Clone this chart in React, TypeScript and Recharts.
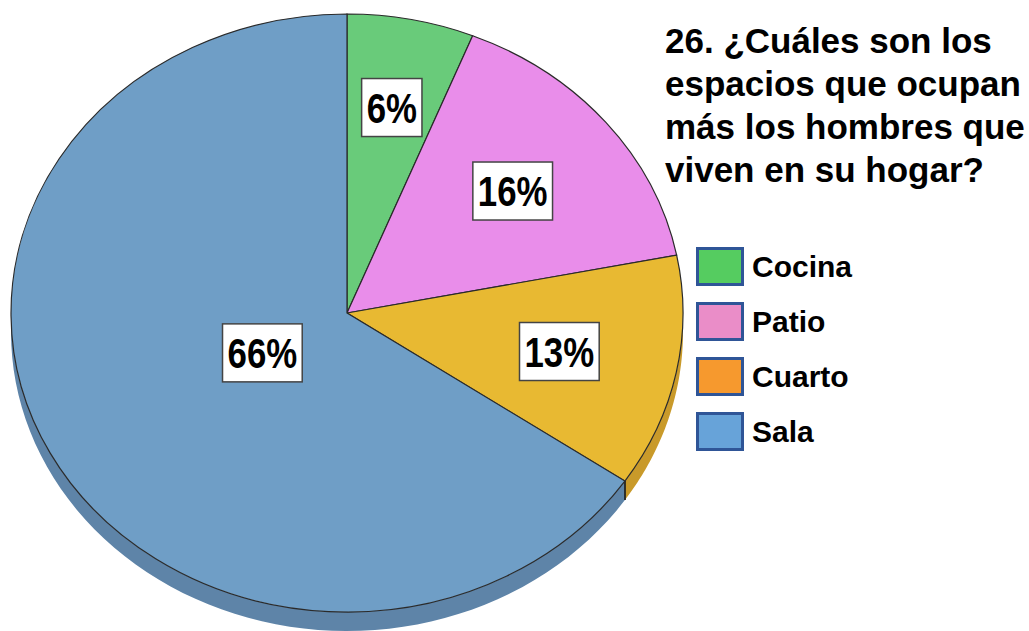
import { PieChart, Pie, Cell, Legend } from 'recharts';

// slices, clockwise from the top
const categories = ['Cocina', 'Patio', 'Cuarto', 'Sala'];
const shares = [6.1, 15.8, 12.6, 65.5];
const sliceColors = ['#69CB7A', '#E98DEA', '#E8B932', '#6F9EC6'];
const sideColors = ['#4FA060', '#B86FB9', '#C99A2A', '#5E84A8'];
const legendColors = ['#55CC60', '#EA8DC8', '#F6992E', '#67A3D9'];
const titleLines = [
  '26. ¿Cuáles son los',
  'espacios que ocupan',
  'más los hombres que',
  'viven en su hogar?',
];

const data = categories.map((name, i) => ({ name, value: shares[i] }));

// the pie is drawn squashed, with a little depth
const RX = 336;
const RY = 299;
const DEPTH = 19;
const RAD = Math.PI / 180;
const labelRadius = [0.7, 0.64, 0.645, 0.285];
const FONT = '"Liberation Sans", Arial, sans-serif';

const pt = (cx: number, cy: number, a: number, off = 0) => [
  cx + RX * Math.cos(a * RAD),
  cy - RY * Math.sin(a * RAD) + off,
];

const catIndex = (p: any) => categories.indexOf(p.name ?? p.payload?.name);

function EllipseSlice(props: any) {
  const { cx, cy, startAngle, endAngle, fill } = props;
  const i = catIndex(props);

  // side wall: only the part of the arc in the lower half shows
  const lo = Math.max(Math.min(startAngle, endAngle), -180);
  const hi = Math.min(Math.max(startAngle, endAngle), 0);
  let wall = null;
  if (hi > lo) {
    const n = 60;
    const top: string[] = [];
    const bottom: string[] = [];
    for (let k = 0; k <= n; k++) {
      const a = hi - ((hi - lo) * k) / n;
      const [x, y] = pt(cx, cy, a);
      top.push(`${x},${y}`);
      bottom.unshift(`${x},${y + DEPTH}`);
    }
    const edges = [lo, hi].filter((a) => a > -180 && a < 0);
    wall = (
      <g>
        <polygon points={[...top, ...bottom].join(' ')} fill={sideColors[i]} />
        {edges.map((a) => {
          const [x, y] = pt(cx, cy, a);
          return <line key={a} x1={x} y1={y} x2={x} y2={y + DEPTH} stroke="#222" strokeWidth={1.5} />;
        })}
      </g>
    );
  }

  const [x1, y1] = pt(cx, cy, startAngle);
  const [x2, y2] = pt(cx, cy, endAngle);
  const large = Math.abs(endAngle - startAngle) > 180 ? 1 : 0;
  const sweep = startAngle > endAngle ? 1 : 0;
  const d = `M${cx},${cy} L${x1},${y1} A${RX},${RY} 0 ${large} ${sweep} ${x2},${y2} Z`;

  return (
    <g>
      {wall}
      <path d={d} fill={fill} stroke="#2a2a2a" strokeWidth={1.2} />
    </g>
  );
}

const renderLabel = (p: any) => {
  const { cx, cy, midAngle, value } = p;
  const i = catIndex(p);
  const f = labelRadius[i] ?? 0.6;
  const x = cx + f * RX * Math.cos(midAngle * RAD);
  const y = cy - f * RY * Math.sin(midAngle * RAD);
  const text = `${Math.round(value)}%`;
  const w = (0.556 * (text.length - 1) + 0.889) * 43 * 0.81;
  return (
    <g>
      <rect x={x - w / 2 - 5} y={y - 29} width={w + 10} height={58} fill="#fff" stroke="#444" strokeWidth={1.5} />
      <text
        x={x}
        y={y + 15}
        textAnchor="middle"
        fontFamily={FONT}
        fontWeight="bold"
        fontSize={43}
        fill="#000"
        textLength={w}
        lengthAdjust="spacingAndGlyphs"
      >
        {text}
      </text>
    </g>
  );
};

// legend keeps the category order and its own swatch colours
const renderLegend = () => (
  <div style={{ fontFamily: FONT }}>
    {categories.map((name, i) => (
      <div key={name} style={{ display: 'flex', alignItems: 'center', height: 55 }}>
        <div
          style={{
            width: 48,
            height: 39,
            boxSizing: 'border-box',
            border: '3px solid #2F5597',
            background: legendColors[i],
          }}
        />
        <span style={{ marginLeft: 8, fontSize: 30, fontWeight: 'bold', color: '#000' }}>{name}</span>
      </div>
    ))}
  </div>
);

export default function App() {
  return (
    <div style={{ position: 'absolute', left: 0, top: 0, background: '#fff' }}>
      <PieChart width={1029} height={631} margin={{ top: 0, right: 0, bottom: 0, left: 0 }}>
        <Pie
          data={data}
          dataKey="value"
          nameKey="name"
          cx={347}
          cy={313}
          outerRadius={RX}
          startAngle={90}
          endAngle={-270}
          shape={EllipseSlice}
          inactiveShape={EllipseSlice}
          label={renderLabel}
          labelLine={false}
          isAnimationActive={false}
        >
          {data.map((d, i) => (
            <Cell key={d.name} fill={sliceColors[i]} />
          ))}
        </Pie>
        <Legend
          layout="vertical"
          verticalAlign="top"
          align="right"
          wrapperStyle={{ position: 'absolute', left: 696, top: 239, width: 200 }}
          content={renderLegend}
        />
        <g>
          {titleLines.map((line, i) => (
            <text
              key={line}
              x={665}
              y={53 + i * 43}
              fontFamily={FONT}
              fontWeight="bold"
              fontSize={35}
              fill="#000"
            >
              {line}
            </text>
          ))}
        </g>
      </PieChart>
    </div>
  );
}
